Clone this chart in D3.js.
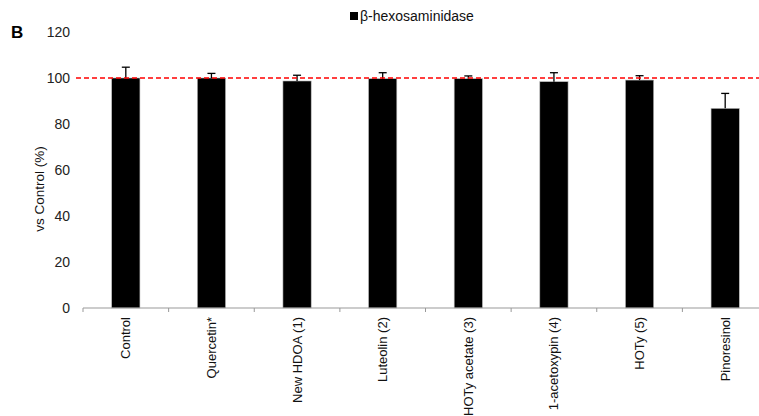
<!DOCTYPE html>
<html>
<head>
<meta charset="utf-8">
<script src="https://cdn.jsdelivr.net/npm/d3@7"></script>
<style>
  body { margin: 0; background: #fff; }
  svg { display: block; font-family: "Liberation Sans", Arial, sans-serif; }
</style>
</head>
<body>
<svg width="759" height="416"></svg>
<script>
const categories = ["Control", "Quercetin*", "New HDOA (1)", "Luteolin (2)",
  "HOTy acetate (3)", "1-acetoxypin (4)", "HOTy (5)", "Pinoresinol"];
const values = [100, 100, 98.7, 99.7, 99.7, 98.4, 99.1, 86.8];
const errors = [4.7, 2.0, 2.5, 2.6, 1.2, 3.9, 1.9, 6.5];
const yTicks = [0, 20, 40, 60, 80, 100, 120];
const refLine = 100;
const seriesName = "β-hexosaminidase";

function draw() {
  const svg = d3.select("svg");

  const x = d3.scaleBand()
    .domain(categories)
    .range([83, 768])
    .paddingInner(0.67)
    .paddingOuter(0.335);

  const y = d3.scaleLinear()
    .domain([0, 120])
    .range([308, 32]);

  // y tick labels (no axis line)
  const yAxis = svg.append("g")
    .attr("transform", "translate(70,0)")
    .call(d3.axisLeft(y).tickValues(yTicks).tickSize(0).tickPadding(0));
  yAxis.select(".domain").remove();
  yAxis.selectAll("text")
    .attr("font-size", 14)
    .attr("fill", "#222")
    .attr("font-family", "Liberation Sans, Arial, sans-serif");

  // bars
  svg.append("g")
    .selectAll("rect")
    .data(values)
    .join("rect")
    .attr("x", (d, i) => x(categories[i]))
    .attr("y", d => y(d))
    .attr("width", x.bandwidth())
    .attr("height", d => y(0) - y(d))
    .attr("fill", "#000")
    .attr("stroke", "#bbb")
    .attr("stroke-width", 0.6);

  // error bars (upper only)
  const err = svg.append("g").attr("stroke", "#000").attr("stroke-width", 1.3);
  values.forEach((v, i) => {
    const cx = x(categories[i]) + x.bandwidth() / 2;
    err.append("line")
      .attr("x1", cx).attr("x2", cx)
      .attr("y1", y(v)).attr("y2", y(v + errors[i]));
    err.append("line")
      .attr("x1", cx - 4).attr("x2", cx + 4)
      .attr("y1", y(v + errors[i])).attr("y2", y(v + errors[i]));
  });

  // x axis
  const boundaries = categories.map(c => x(c) - x.step() * x.paddingInner() / 2);
  const xAxisG = svg.append("g").attr("stroke", "#999").attr("stroke-width", 1);
  xAxisG.append("line")
    .attr("x1", 83).attr("x2", 768)
    .attr("y1", y(0)).attr("y2", y(0));
  xAxisG.selectAll("line.tick")
    .data(boundaries)
    .join("line")
    .attr("class", "tick")
    .attr("x1", d => d).attr("x2", d => d)
    .attr("y1", y(0)).attr("y2", y(0) + 4);

  svg.append("g")
    .selectAll("text")
    .data(categories)
    .join("text")
    .attr("transform", d => `translate(${x(d) + x.bandwidth() / 2 + 4.5},317) rotate(-90)`)
    .attr("text-anchor", "end")
    .attr("font-size", 13)
    .attr("fill", "#111")
    .text(d => d);

  // reference line
  svg.append("line")
    .attr("x1", 76).attr("x2", 759)
    .attr("y1", y(refLine)).attr("y2", y(refLine))
    .attr("stroke", "#f00")
    .attr("stroke-width", 1.6)
    .attr("stroke-dasharray", "5,3");

  // y label
  svg.append("text")
    .attr("transform", "translate(44,189) rotate(-90)")
    .attr("text-anchor", "middle")
    .attr("font-size", 13.5)
    .attr("fill", "#111")
    .text("vs Control (%)");

  // panel letter
  svg.append("text")
    .attr("x", 11).attr("y", 38)
    .attr("font-size", 17)
    .attr("font-weight", "bold")
    .text("B");

  // legend
  svg.append("rect")
    .attr("x", 350).attr("y", 12)
    .attr("width", 8).attr("height", 8)
    .attr("fill", "#000");
  svg.append("text")
    .attr("x", 360).attr("y", 21)
    .attr("font-size", 14)
    .attr("fill", "#111")
    .text(seriesName);
}

window.onload = draw;
</script>
</body>
</html>
